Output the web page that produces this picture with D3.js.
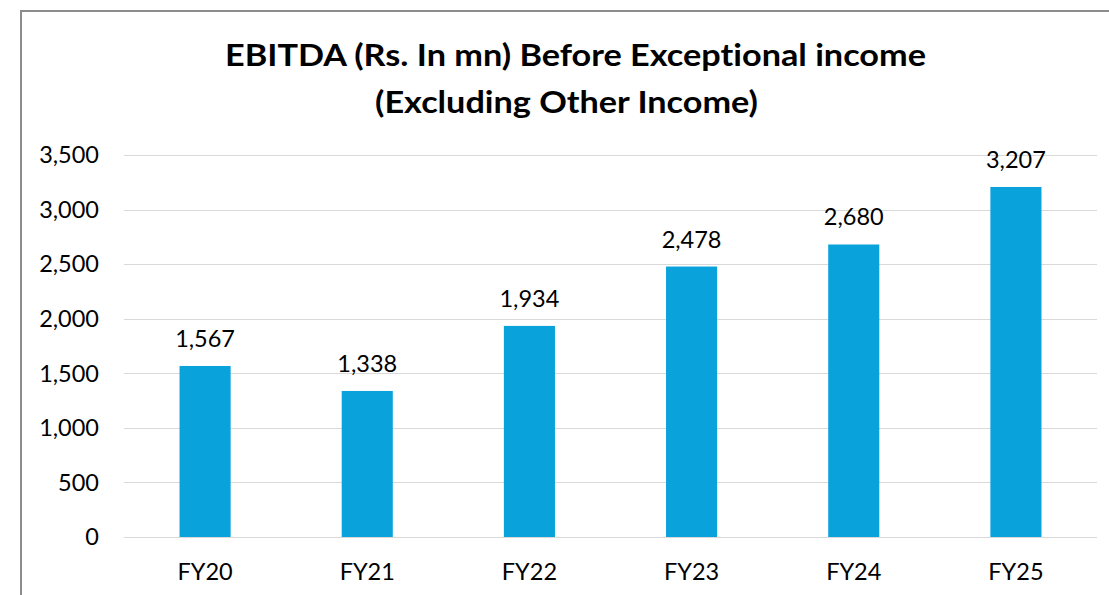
<!DOCTYPE html>
<html>
<head>
<meta charset="utf-8">
<script src="https://cdnjs.cloudflare.com/ajax/libs/d3/7.8.5/d3.min.js"></script>
<style>
  body { margin: 0; background: #fff; }
  text { font-family: Lato, "Open Sans", sans-serif; fill: #000; font-variant-ligatures: none; }
</style>
</head>
<body>
<script>
// chart data
var years = ["FY20", "FY21", "FY22", "FY23", "FY24", "FY25"];
var ebitda = [1567, 1338, 1934, 2478, 2680, 3207];
var yTicks = [0, 500, 1000, 1500, 2000, 2500, 3000, 3500];
var titleLines = ["EBITDA (Rs. In mn) Before Exceptional income", "(Excluding Other Income)"];

var width = 1109, height = 595;

var svg = d3.select("body")
    .append("svg")
    .attr("width", width)
    .attr("height", height);

//outer chart frame
svg.append("rect")
    .attr("x", 21)
    .attr("y", 11)
    .attr("width", 1110)
    .attr("height", 600)
    .attr("fill", "none")
    .attr("stroke", "#8c8c8c")
    .attr("stroke-width", 2);

//title, two centred bold lines
svg.selectAll(".title")
    .data(titleLines)
    .enter()
    .append("text")
    .attr("class", "title")
    .attr("x", function(d, i){ return i == 0 ? 575.5 : 566.5; })
    .attr("y", function(d, i){ return 66 + i * 47; })
    .attr("text-anchor", "middle")
    .attr("font-weight", "bold")
    .attr("font-size", 30)
    .attr("textLength", function(d, i){ return i == 0 ? 701 : 383; })
    .attr("lengthAdjust", "spacingAndGlyphs")
    .text(function(d){ return d; });

var plotLeft = 124, plotRight = 1097;

var x = d3.scaleBand()
    .domain(years)
    .range([plotLeft, plotRight]);

var y = d3.scaleLinear()
    .domain([0, 3500])
    .range([537, 155]);

var fmt = d3.format(",");

//horizontal gridlines
svg.selectAll(".grid")
    .data(yTicks)
    .enter()
    .append("line")
    .attr("class", "grid")
    .attr("x1", plotLeft)
    .attr("x2", plotRight)
    .attr("y1", function(d){ return Math.round(y(d)) + 0.5; })
    .attr("y2", function(d){ return Math.round(y(d)) + 0.5; })
    .attr("stroke", "#d9d9d9")
    .attr("stroke-width", 1);

//y axis labels
svg.selectAll(".ytick")
    .data(yTicks)
    .enter()
    .append("text")
    .attr("class", "ytick")
    .attr("x", 99)
    .attr("y", function(d){ return y(d); })
    .attr("dy", "0.35em")
    .attr("text-anchor", "end")
    .attr("font-size", 23.5)
    .text(function(d){ return fmt(d); });

var barW = x.bandwidth() * 0.315;

//bars
svg.selectAll(".bar")
    .data(ebitda)
    .enter()
    .append("rect")
    .attr("class", "bar")
    .attr("x", function(d, i){ return x(years[i]) + x.bandwidth() / 2 - barW / 2; })
    .attr("y", function(d){ return y(d); })
    .attr("width", barW)
    .attr("height", function(d){ return y(0) - y(d); })
    .attr("fill", "#09a2da");

//value labels above bars
svg.selectAll(".val")
    .data(ebitda)
    .enter()
    .append("text")
    .attr("class", "val")
    .attr("x", function(d, i){ return x(years[i]) + x.bandwidth() / 2; })
    .attr("y", function(d){ return y(d) - 19; })
    .attr("text-anchor", "middle")
    .attr("font-size", 23.5)
    .text(function(d){ return fmt(d); });

//category labels
svg.selectAll(".cat")
    .data(years)
    .enter()
    .append("text")
    .attr("class", "cat")
    .attr("x", function(d){ return x(d) + x.bandwidth() / 2; })
    .attr("y", 580)
    .attr("text-anchor", "middle")
    .attr("font-size", 23.5)
    .text(function(d){ return d; });
</script>
</body>
</html>
